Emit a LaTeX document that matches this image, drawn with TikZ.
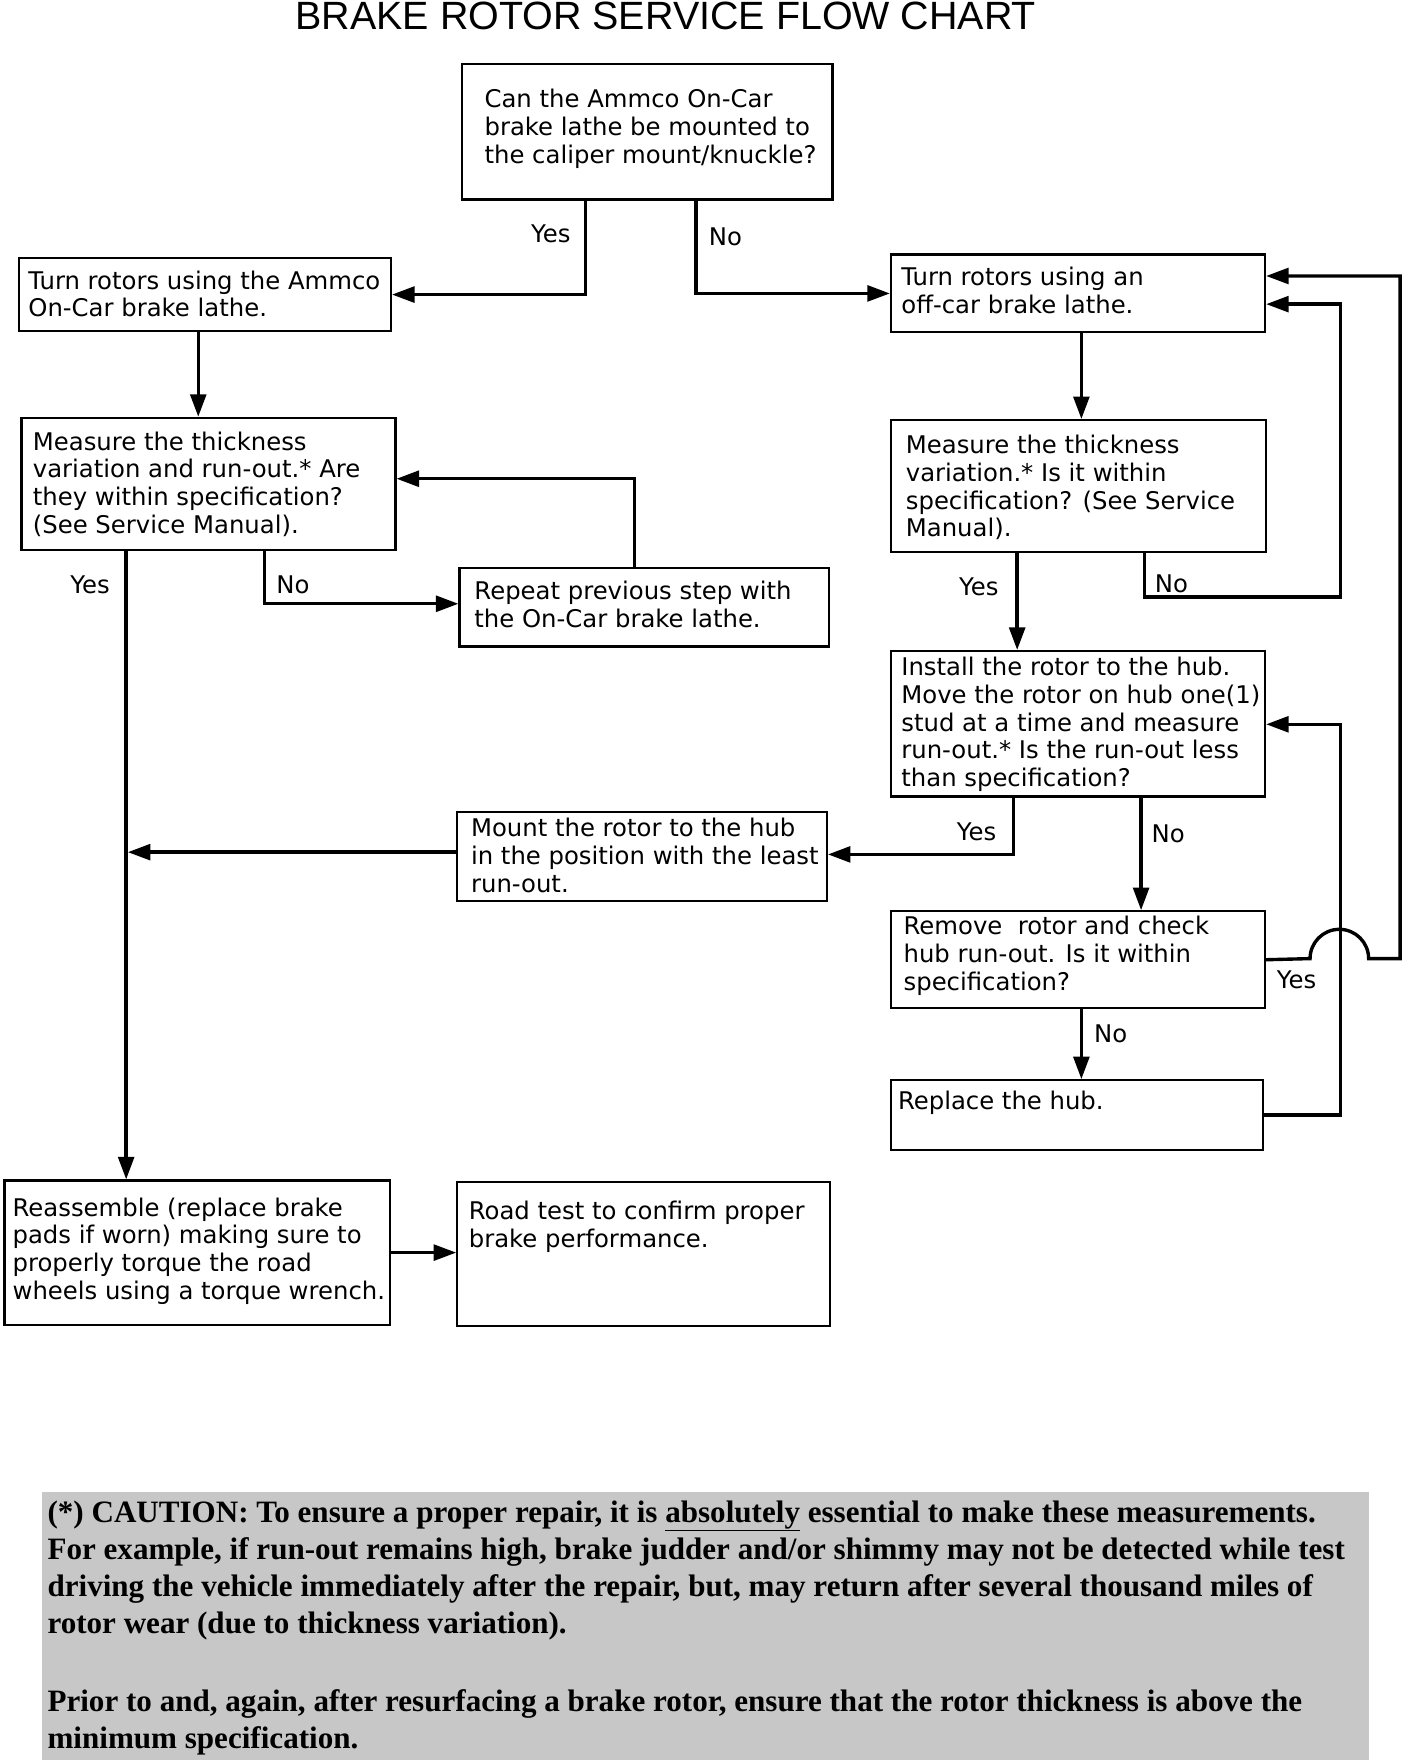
\documentclass[tikz,border=0pt]{standalone}
\usepackage{fontspec}
\setmainfont{DejaVu Sans}
\newfontfamily\cautionfont{Liberation Serif}
\newfontfamily\titlefont{Liberation Sans}
\usetikzlibrary{arrows.meta,calc}
\tikzset{
  box/.style={draw, line width=2pt, inner sep=0pt, rectangle},
  txt/.style={inner sep=0pt, align=left, font=\fontsize{21.6}{24.7}\selectfont},
  lbl/.style={inner sep=0pt, font=\fontsize{21.6}{24.7}\selectfont},
  conn/.style={line width=3pt, -{Triangle[length=20pt,width=14pt]}},
  plain/.style={line width=3pt}
}
\newcommand\flowbox[8]{%
  \pgfmathsetmacro\bw{#4-#2}\pgfmathsetmacro\bh{#5-#3}%
  \node[box, minimum width=\bw pt, minimum height=\bh pt, anchor=north west] (#1) at (#2,#3) {};
  \node[txt, anchor=north west] (#1t) at (#6,#7) {#8};}
\begin{document}
\begin{tikzpicture}[x=1pt,y=-1pt]
\useasboundingbox[fill=white] (0,0) rectangle (1250,1566);

\node[inner sep=0pt, font=\titlefont\fontsize{35}{36}\selectfont] (title) at (591,14) {BRAKE ROTOR SERVICE FLOW CHART};

\flowbox{A}{409}{56}{738}{176}{430}{79}{Can the Ammco On-Car\\brake lathe be mounted to\\the caliper mount/knuckle?}
\flowbox{B}{16}{228}{346}{293}{25}{240}{Turn rotors using the Ammco\\On-Car brake lathe.}
\flowbox{C}{790}{225}{1122}{294}{800}{237}{Turn rotors using an\\off-car brake lathe.}
\flowbox{D}{18}{370}{350}{487}{29}{383}{Measure the thickness\\variation and run-out.* Are\\they within specification?\\(See Service Manual).}
\flowbox{E}{407}{503}{735}{573}{421}{516}{Repeat previous step with\\the On-Car brake lathe.}
\flowbox{F}{790}{372}{1123}{489}{804}{386}{Measure the thickness\\variation.* Is it within\\specification? (See Service\\Manual).}
\flowbox{G}{790}{577}{1122}{706}{800}{583}{Install the rotor to the hub.\\Move the rotor on hub one(1)\\stud at a time and measure\\run-out.* Is the run-out less\\than specification?}
\flowbox{H}{405}{720}{733}{799}{418}{726}{Mount the rotor to the hub\\in the position with the least\\run-out.}
\flowbox{I}{790}{808}{1122}{894}{802}{813}{Remove\ \ rotor and check\\hub run-out. Is it within\\specification?}
\flowbox{J}{790}{958}{1120}{1020}{797}{968}{Replace the hub.}
\flowbox{K}{3}{1047}{345}{1175}{11}{1063}{Reassemble (replace brake\\pads if worn) making sure to\\properly torque the road\\wheels using a torque wrench.}
\flowbox{L}{405}{1048}{736}{1176}{416}{1066}{Road test to confirm proper\\brake performance.}

% helper coordinates
\coordinate (vD) at ($(D.south west)+(94,0)$);
\coordinate (rx1) at (1190,530);
\coordinate (rv) at (1190,643);
\coordinate (hopL) at (1163,851);
\coordinate (ro1) at (1243,851);
\coordinate (ro2) at (1243,245);
\coordinate (hy) at ($(H.west)+(0,-4)$);

% connectors
\draw[conn] ($(A.south west)+(111,0)$) |- (B.east);
\draw[conn] ($(A.south west)+(209,0)$) |- (C.west);
\draw[conn] ($(B.south west)+(160,0)$) -- ($(D.north west)+(158,0)$);
\draw[conn] ($(C.south west)+(170,0)$) -- ($(F.north west)+(170,0)$);
\draw[conn] ($(D.south west)+(217,0)$) |- ($(E.west)+(0,-3)$);
\draw[conn] ($(E.north west)+(156,0)$) |- ($(D.north east)+(0,55)$);
\draw[conn] (vD) -- (K.north -| vD);
\draw[conn] (hy) -- ($(hy -| vD)+(1.5,0)$);
\draw[conn] ($(F.south west)+(113,0)$) -- ($(G.north west)+(113,0)$);
\draw[conn] ($(F.south west)+(226,0)$) |- (rx1) |- ($(C.north east)+(0,45)$);
\draw[conn] (I.east) -- (hopL) arc[start angle=180, end angle=360, radius=26] -- (ro1) -- (ro2) -- (C.east |- ro2);
\draw[conn] ($(G.south west)+(110,0)$) |- ($(H.east)+(0,-2)$);
\draw[conn] ($(G.south west)+(223,0)$) -- ($(I.north west)+(223,0)$);
\draw[conn] ($(I.south west)+(170,0)$) -- ($(J.north west)+(170,0)$);
\draw[conn] (J.east) -| (rv) -- (G.east |- rv);
\draw[conn] (K.east) -- (L.west |- K.east);

% labels
\node[lbl] (l1) at (489,208) {Yes};
\node[lbl] (l2) at (644,210) {No};
\node[lbl] (l3) at (260,519) {No};
\node[lbl] (l4) at (80,519) {Yes};
\node[lbl] (l5) at (869,521) {Yes};
\node[lbl] (l6) at (1040,518) {No};
\node[lbl] (l7) at (867,738) {Yes};
\node[lbl] (l8) at (1037,740) {No};
\node[lbl] (l9) at (1151,870) {Yes};
\node[lbl] (l10) at (986,918) {No};

% caution box
\node[fill=black!22, minimum width=1178pt, minimum height=238pt, anchor=north west, inner sep=0pt] (caution) at (37,1324) {};
\node[inner sep=0pt, anchor=north west, align=left, font=\cautionfont\bfseries\fontsize{27.6}{33}\selectfont] (c1) at (42,1332)
 {(*) CAUTION: To ensure a proper repair, it is \underline{absolutely} essential to make these measurements.\\
  For example, if run-out remains high, brake judder and/or shimmy may not be detected while test\\
  driving the vehicle immediately after the repair, but, may return after several thousand miles of\\
  rotor wear (due to thickness variation).};
\node[inner sep=0pt, anchor=north west, align=left, font=\cautionfont\bfseries\fontsize{27.6}{33}\selectfont] (c2) at (42,1500)
 {Prior to and, again, after resurfacing a brake rotor, ensure that the rotor thickness is above the\\
  minimum specification.};
\end{tikzpicture}
\end{document}
